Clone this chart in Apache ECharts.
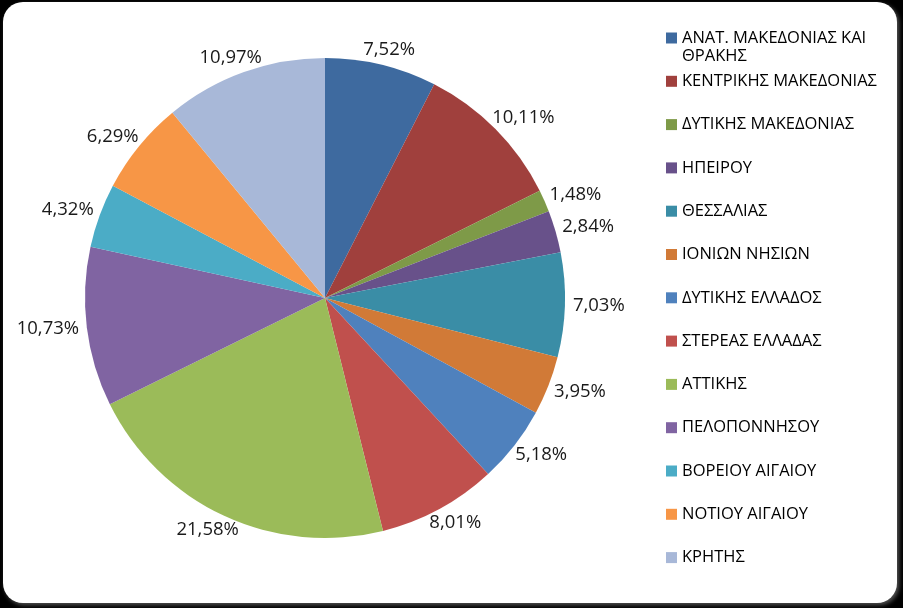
<!DOCTYPE html>
<html>
<head>
<meta charset="utf-8">
<script src="https://cdn.jsdelivr.net/npm/echarts@6/dist/echarts.min.js"></script>
<style>
html,body{margin:0;padding:0;background:#000;width:903px;height:608px;overflow:hidden;}
#frame{position:absolute;left:3px;top:2px;width:894px;height:601px;background:#fff;border-radius:20px;box-shadow:2px 2px 4px #555;}
#chart{position:absolute;left:0;top:0;width:903px;height:608px;}
</style>
</head>
<body>
<div id="frame"></div>
<div id="chart"></div>
<script>
const categories = ["ΑΝΑΤ. ΜΑΚΕΔΟΝΙΑΣ ΚΑΙ ΘΡΑΚΗΣ","ΚΕΝΤΡΙΚΗΣ ΜΑΚΕΔΟΝΙΑΣ","ΔΥΤΙΚΗΣ ΜΑΚΕΔΟΝΙΑΣ","ΗΠΕΙΡΟΥ","ΘΕΣΣΑΛΙΑΣ","ΙΟΝΙΩΝ ΝΗΣΙΩΝ","ΔΥΤΙΚΗΣ ΕΛΛΑΔΟΣ","ΣΤΕΡΕΑΣ ΕΛΛΑΔΑΣ","ΑΤΤΙΚΗΣ","ΠΕΛΟΠΟΝΝΗΣΟΥ","ΒΟΡΕΙΟΥ ΑΙΓΑΙΟΥ","ΝΟΤΙΟΥ ΑΙΓΑΙΟΥ","ΚΡΗΤΗΣ"];
const values = [7.52,10.11,1.48,2.84,7.03,3.95,5.18,8.01,21.58,10.73,4.32,6.29,10.97];
const colors = ["#3E6A9F","#A0403D","#7E9A48","#68518A","#3A8DA6","#D17A37","#4F81BD","#C0504D","#9BBB59","#8064A2","#4BACC6","#F79646","#A8B8D8"];

const CX = 325, CY = 298, R = 240, LABEL_GAP = 8;
const total = values.reduce((a,b)=>a+b,0);
const midAngles = [];
let acc = 0;
values.forEach(v=>{ midAngles.push((acc + v/2)/total*2*Math.PI); acc += v; });

const chart = echarts.init(document.getElementById('chart'), null, {renderer:'canvas'});
const data = categories.map((c,i)=>({name:c, value:values[i], itemStyle:{color:colors[i]}}));
chart.setOption({
  backgroundColor:'transparent',
  animation:false,
  legend:{
    orient:'vertical',
    left:666, top:28,
    padding:0,
    itemWidth:11, itemHeight:11,
    itemGap:23.3,
    icon:'rect',
    selectedMode:false,
    formatter:function(n){ return n === categories[0] ? "ΑΝΑΤ. ΜΑΚΕΔΟΝΙΑΣ ΚΑΙ" : n; },
    textStyle:{fontFamily:'Open Sans', fontSize:16.5, color:'#000', lineHeight:20},
    data:categories
  },
  graphic:[{
    type:'text', left:682, top:48,
    style:{text:'ΘΡΑΚΗΣ', fontFamily:'Open Sans', fontSize:16.5, fill:'#000'}
  }],
  series:[{
    type:'pie',
    center:[CX,CY],
    radius:R,
    startAngle:90,
    clockwise:true,
    avoidLabelOverlap:false,
    data:data,
    label:{
      show:true, position:'outside',
      formatter:function(p){ return p.value.toFixed(2).replace('.',',') + '%'; },
      fontFamily:'Open Sans', fontSize:18.5, color:'#1a1a1a'
    },
    labelLine:{show:false, length:4, length2:0},
    labelLayout:function(p){
      const a = midAngles[p.dataIndex];
      const s = Math.sin(a), c = Math.cos(a);
      const w = p.labelRect.width, h = p.labelRect.height;
      const px = CX + (R + LABEL_GAP) * s;
      const py = CY - (R + LABEL_GAP) * c;
      return { x: px + w/2 * s, y: py - h/2 * 0.8 * c, align:'center', verticalAlign:'middle' };
    },
    itemStyle:{borderWidth:0}
  }]
});
</script>
</body>
</html>
